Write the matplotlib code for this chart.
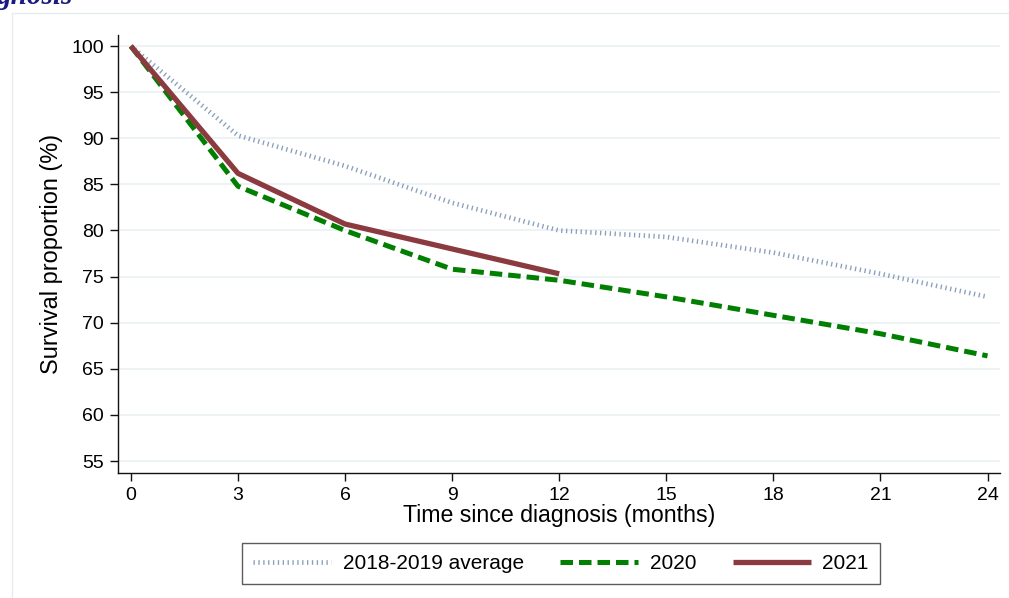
import matplotlib
matplotlib.use("Agg")
import matplotlib.pyplot as plt
from matplotlib.patches import Rectangle

months = [0, 3, 6, 9, 12, 15, 18, 21, 24]
avg_1819 = [100, 90.3, 87.0, 83.0, 80.0, 79.3, 77.6, 75.3, 72.8]
y2020 = [100, 84.8, 80.0, 75.8, 74.6, 72.8, 70.8, 68.8, 66.4]
months_2021 = [0, 3, 6, 9, 12]
y2021 = [100, 86.2, 80.7, 78.0, 75.3]

xticks = [0, 3, 6, 9, 12, 15, 18, 21, 24]
yticks = [55, 60, 65, 70, 75, 80, 85, 90, 95, 100]

plt.rcParams['font.family'] = ['Liberation Sans', 'DejaVu Sans']

W, H = 1009, 598
fig = plt.figure(figsize=(W / 100, H / 100), dpi=100)
fig.patch.set_facecolor('white')

# outer graph-region border (partially visible)
fig.patches.append(Rectangle((12 / W, -0.1), 1.2, 1 - 13 / H + 0.1,
                             transform=fig.transFigure, fill=False,
                             edgecolor='#e6ecee', linewidth=1.0))

# partially visible title (cut off at the top edge, as in the reference)
fig.text(-3 / W, 1 - 4 / H, 'gnosis', ha='left', va='baseline',
         family=['Liberation Serif', 'DejaVu Serif'], fontsize=21,
         fontweight='bold', fontstyle='italic', color='#1a1a80')

ax = fig.add_axes([118 / W, 1 - 473 / H, (1000 - 118) / W, (473 - 35) / H])
ax.set_xlim(-0.36, 24.35)
ax.set_ylim(53.7, 101.2)

for s in ['top', 'right']:
    ax.spines[s].set_visible(False)
for s in ['left', 'bottom']:
    ax.spines[s].set_color('#111111')
    ax.spines[s].set_linewidth(1.0)

ax.set_yticks(yticks)
ax.set_xticks(xticks)
ax.tick_params(axis='both', labelsize=14, length=6, width=1, color='#111111', pad=4)
ax.grid(axis='y', color='#eaf1f3', linewidth=1.2)
ax.set_axisbelow(True)

l1, = ax.plot(months, avg_1819, color='#8a9fbb', linewidth=3.4,
              linestyle=(0, (0.28, 0.75)), dash_capstyle='butt',
              label='2018-2019 average')
l2, = ax.plot(months, y2020, color='#007f00', linewidth=3.6,
              linestyle=(0, (2.5, 1.2)), dash_capstyle='butt', label='2020')
l3, = ax.plot(months_2021, y2021, color='#8b3a40', linewidth=3.8,
              solid_capstyle='butt', label='2021')

ax.set_xlabel('Time since diagnosis (months)', fontsize=16.7, labelpad=0)
ax.set_ylabel('Survival proportion (%)', fontsize=16.9, labelpad=6)

leg = fig.legend(handles=[l1, l2, l3], loc='center',
                 bbox_to_anchor=(561 / W, 1 - 563.5 / H), ncol=3,
                 fontsize=15, frameon=True, fancybox=False,
                 handlelength=3.75, handletextpad=0.55, columnspacing=1.75,
                 borderpad=0.52)
leg.get_frame().set_edgecolor('#333333')
leg.get_frame().set_linewidth(1.0)

fig.savefig('out.png', dpi=100, facecolor='white')
